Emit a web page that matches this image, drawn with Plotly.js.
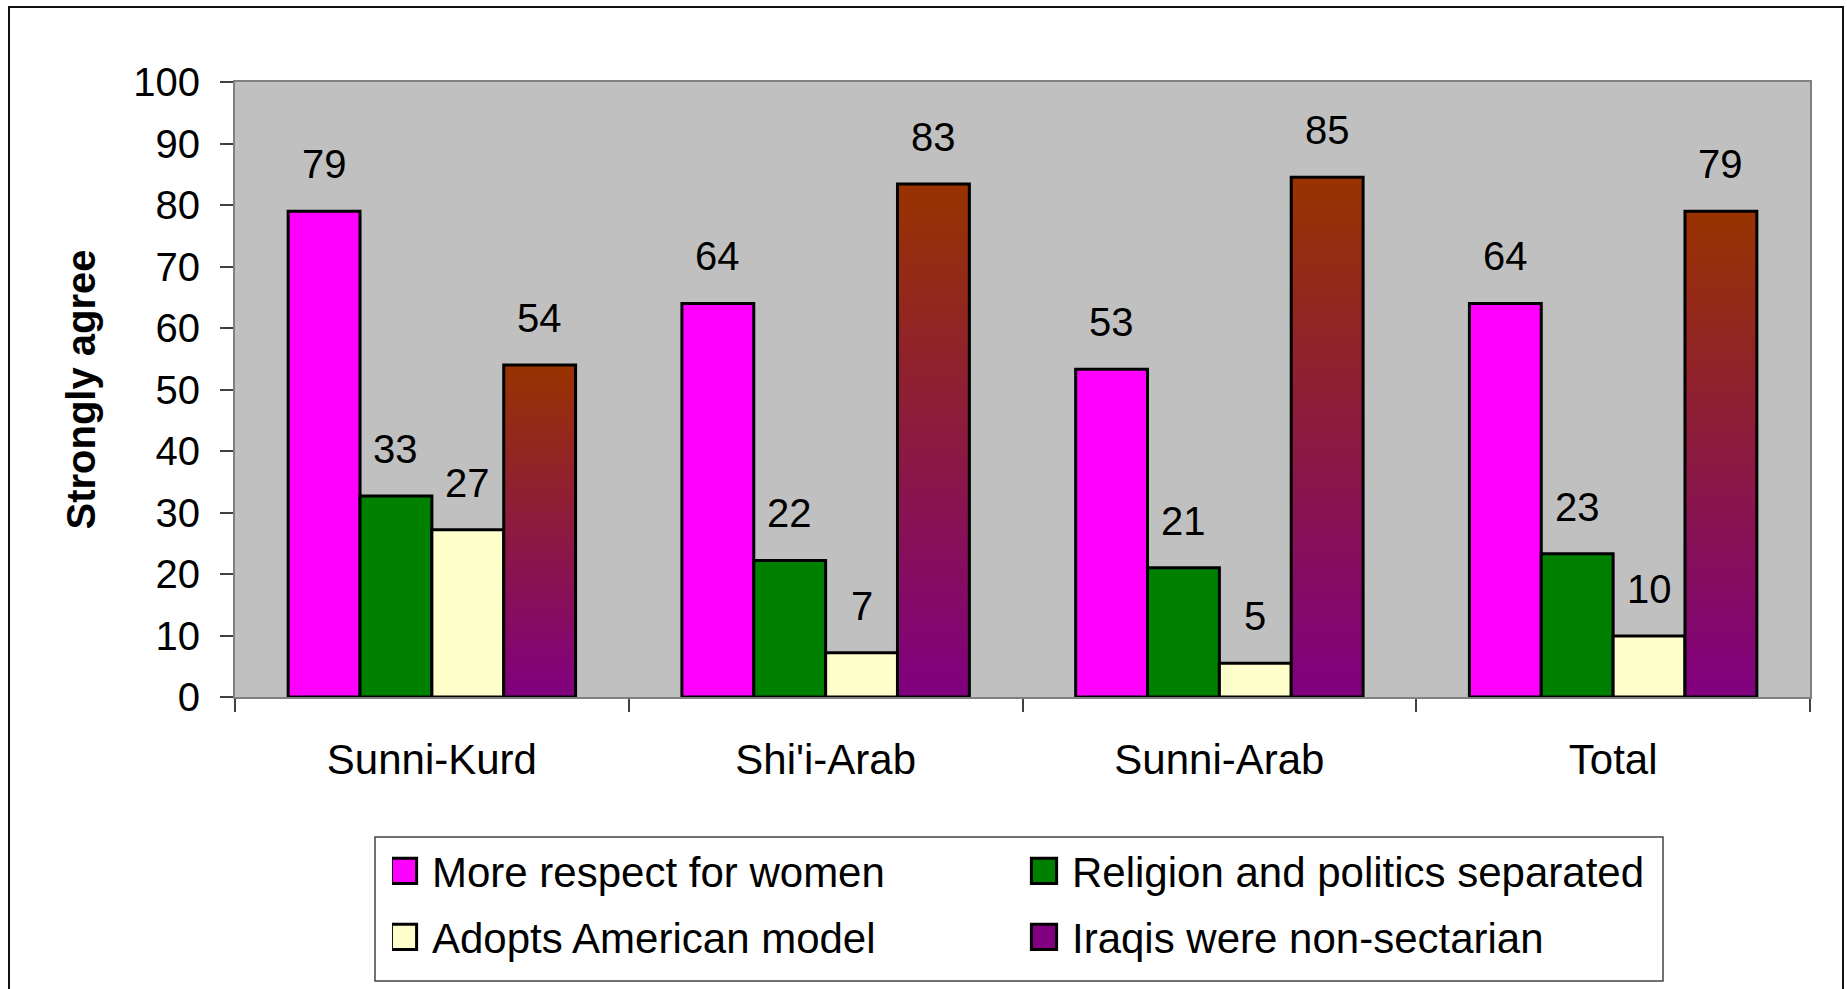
<!DOCTYPE html>
<html><head><meta charset="utf-8">
<script src="https://cdn.plot.ly/plotly-3.0.1.min.js"></script>
<style>
html,body{margin:0;padding:0;background:#fff;overflow:hidden}
#chart{width:1847px;height:989px;position:absolute;left:0;top:0}
#frame{position:absolute;left:8px;top:6px;width:1836px;height:1010px;border:2px solid #111;box-sizing:border-box;pointer-events:none}
</style></head><body>
<div id="chart"></div><div id="frame"></div>
<script>
// ---- data ----
const categories = ['Sunni-Kurd', "Shi'i-Arab", 'Sunni-Arab', 'Total'];
const seriesNames = ['More respect for women', 'Religion and politics separated', 'Adopts American model', 'Iraqis were non-sectarian'];
const respectWomen = [79, 64, 53.3, 64];
const religionSeparated = [32.7, 22.2, 21, 23.3];
const americanModel = [27.2, 7.2, 5.5, 9.9];
const nonSectarian = [54, 83.4, 84.5, 79];
const respectWomenLabels = ['79', '64', '53', '64'];
const religionSeparatedLabels = ['33', '22', '21', '23'];
const americanModelLabels = ['27', '7', '5', '10'];
const nonSectarianLabels = ['54', '83', '85', '79'];
const yTickVals = [0, 10, 20, 30, 40, 50, 60, 70, 80, 90, 100];

// ---- style ----
const FONT = 'Liberation Sans, Arial, sans-serif';
const colors = ['#FF00FF', '#008000', '#FFFFCC', '#800080'];
const W = 1847, H = 989;
const M = {l: 235, r: 37, t: 82, b: 292};
const PW = W - M.l - M.r, PH = H - M.t - M.b;
const px2x = px => (px - M.l) / PW;
const py2y = py => (H - M.b - py) / PH;
const BARGAP = 0.27;

const values = [respectWomen, religionSeparated, americanModel, nonSectarian];
const labels = [respectWomenLabels, religionSeparatedLabels, americanModelLabels, nonSectarianLabels];
const legendOf = ['legend', 'legend', 'legend2', 'legend2'];

const traces = values.map((v, s) => ({
  type: 'bar', name: seriesNames[s], x: categories, y: v,
  marker: {color: colors[s], line: {color: '#000', width: 3}},
  legend: legendOf[s], hoverinfo: 'skip'
}));

const bw = (1 - BARGAP) / values.length;
const annotations = [];
values.forEach((v, s) => v.forEach((val, j) => {
  annotations.push({
    x: j + (s - (values.length - 1) / 2) * bw, y: val, xref: 'x', yref: 'y',
    text: labels[s][j], showarrow: false, yanchor: 'middle', yshift: 47,
    font: {family: FONT, size: 40, color: '#000'}
  });
}));

const legendCommon = {
  orientation: 'h', xanchor: 'left', yanchor: 'middle', entrywidth: 595,
  font: {family: FONT, size: 42, color: '#000'}, bgcolor: 'rgba(0,0,0,0)', borderwidth: 0
};

const layout = {
  width: W, height: H, margin: M,
  paper_bgcolor: '#fff', plot_bgcolor: '#C0C0C0',
  font: {family: FONT, size: 40, color: '#000'},
  barmode: 'group', bargap: BARGAP, bargroupgap: 0,
  showlegend: true,
  legend: Object.assign({x: px2x(392), y: py2y(871)}, legendCommon),
  legend2: Object.assign({x: px2x(392), y: py2y(937)}, legendCommon),
  xaxis: {
    type: 'category', tickson: 'boundaries', ticks: 'outside', ticklen: 13, tickwidth: 2, tickcolor: '#404040',
    showline: true, mirror: true, linecolor: '#808080', linewidth: 2, showgrid: false,
    tickfont: {family: FONT, size: 42, color: '#000'}, ticklabelstandoff: 25, fixedrange: true
  },
  yaxis: {
    range: [0, 100], tickvals: yTickVals, ticks: 'outside', ticklen: 13, tickwidth: 2, tickcolor: '#404040',
    showline: true, mirror: true, linecolor: '#808080', linewidth: 2, showgrid: false, zeroline: false,
    tickfont: {family: FONT, size: 40, color: '#000'}, ticklabelstandoff: 12,
    title: {text: 'Strongly agree', font: {family: FONT, size: 40, color: '#000', weight: 700}, standoff: 25},
    fixedrange: true
  },
  annotations: annotations,
  shapes: [{
    type: 'rect', xref: 'paper', yref: 'paper',
    x0: px2x(375), x1: px2x(1663), y0: py2y(837), y1: py2y(981),
    line: {color: '#444', width: 1.5}, fillcolor: 'rgba(0,0,0,0)'
  }]
};

const gd = document.getElementById('chart');
Plotly.newPlot(gd, traces, layout, {staticPlot: true, displayModeBar: false}).then(() => {
  const svgNS = 'http://www.w3.org/2000/svg';
  const defs = gd.querySelector('svg.main-svg defs');
  const grad = document.createElementNS(svgNS, 'linearGradient');
  grad.setAttribute('id', 'nsGrad');
  grad.setAttribute('x1', '0'); grad.setAttribute('y1', '0');
  grad.setAttribute('x2', '0'); grad.setAttribute('y2', '1');
  [['0', '#993300'], ['1', '#800080']].forEach(([o, c]) => {
    const st = document.createElementNS(svgNS, 'stop');
    st.setAttribute('offset', o); st.setAttribute('stop-color', c);
    grad.appendChild(st);
  });
  defs.appendChild(grad);
  const barTraces = gd.querySelectorAll('.barlayer .trace');
  barTraces[3].querySelectorAll('.point path').forEach(p => p.style.setProperty('fill', 'url(#nsGrad)'));
  gd.querySelectorAll('g.traces').forEach(g => {
    const t = g.querySelector('.legendtext');
    g.querySelectorAll('.legendpoints path').forEach(p => {
      p.setAttribute('transform', 'translate(12,0) scale(2.1)');
      p.setAttribute('vector-effect', 'non-scaling-stroke');
      p.style.setProperty('stroke-width', '3px');
      if (t && t.textContent === seriesNames[3]) p.style.setProperty('fill', 'url(#nsGrad)');
    });
  });
});
</script>
</body></html>
